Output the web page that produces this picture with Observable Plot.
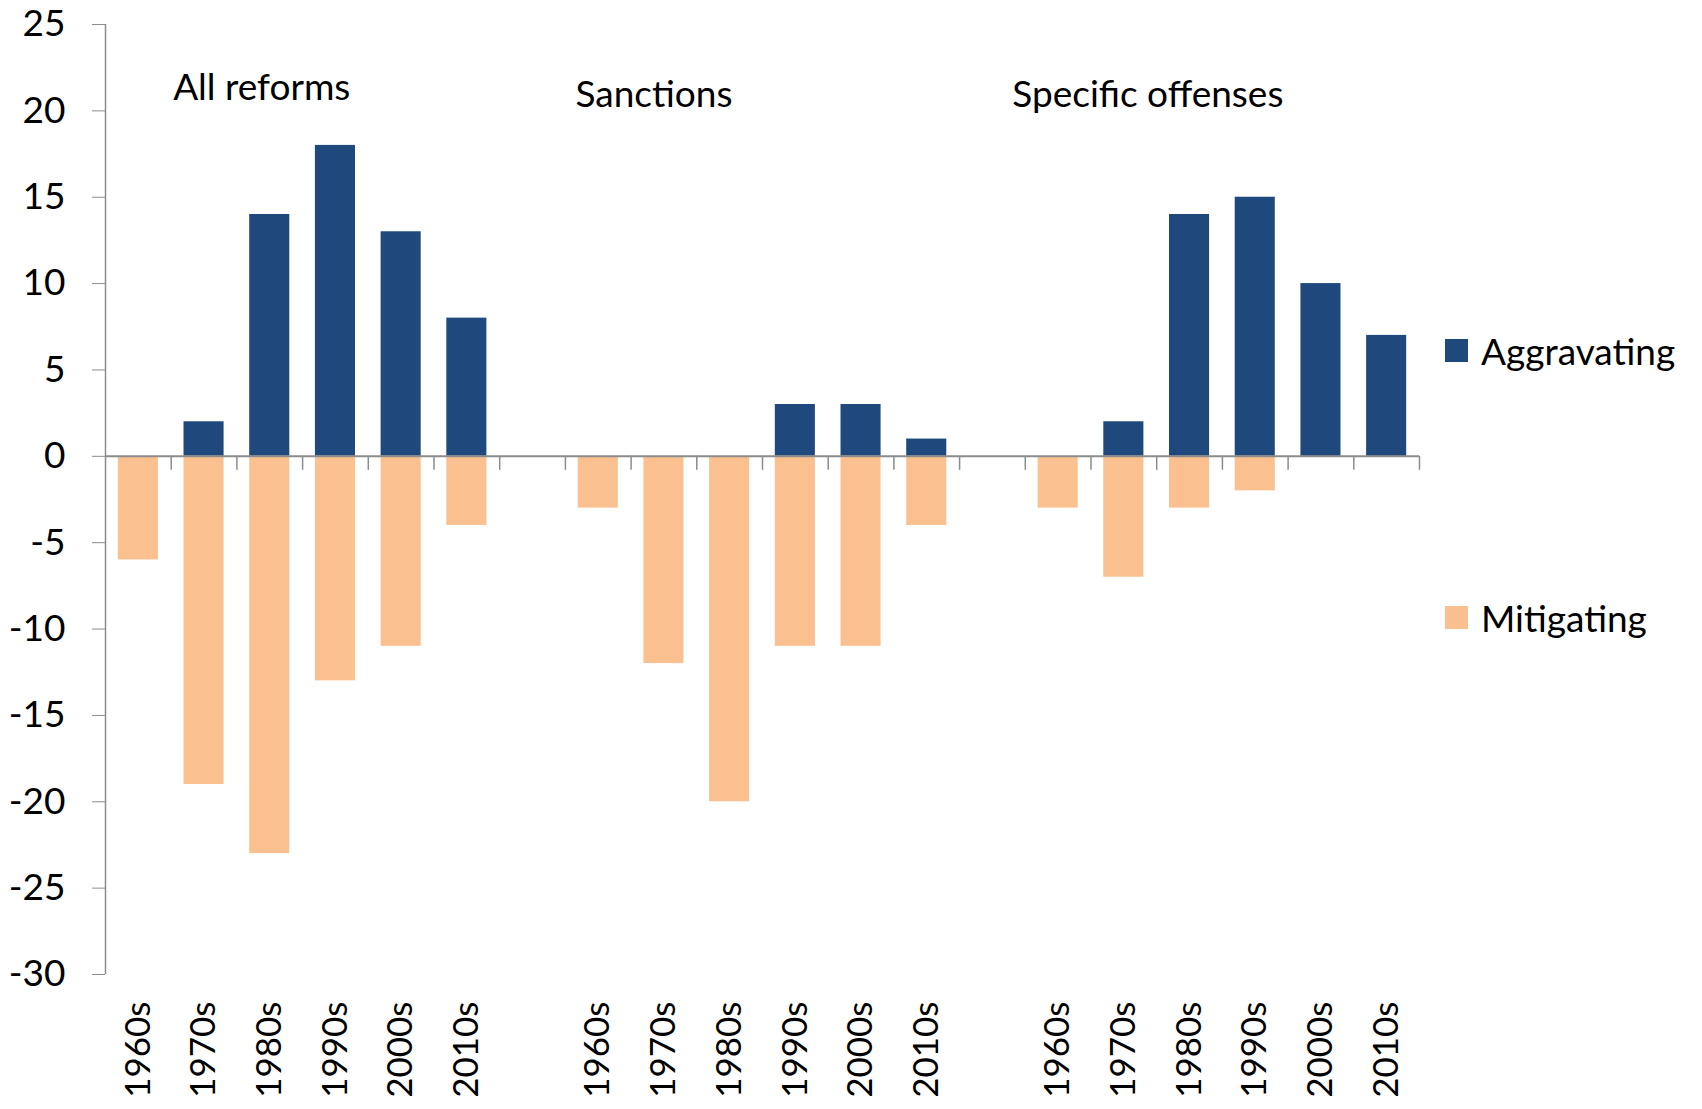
<!DOCTYPE html>
<html>
<head>
<meta charset="utf-8">
<script src="https://cdn.jsdelivr.net/npm/d3@7"></script>
<script src="https://cdn.jsdelivr.net/npm/@observablehq/plot@0.6"></script>
<style>
  html, body { margin: 0; padding: 0; background: #fff; }
  #wrap { position: relative; width: 1702px; height: 1109px; font-family: Lato, sans-serif; }
  .legend { position: absolute; left: 1445px; display: flex; align-items: center; font-size: 37px; color: #000; font-family: Lato, sans-serif; }
  .legend .sw { width: 23px; height: 23px; margin-right: 13px; }
</style>
</head>
<body>
<div id="wrap"></div>
<script>
// ---- data ----
const decades = ["1960s", "1970s", "1980s", "1990s", "2000s", "2010s"];
const groups = ["All reforms", "Sanctions", "Specific offenses"];
const series = ["Aggravating", "Mitigating"];
const colors = ["#1F497D", "#FAC090"];

const allAggravating  = [0, 2, 14, 18, 13, 8];
const allMitigating   = [-6, -19, -23, -13, -11, -4];
const sancAggravating = [0, 0, 0, 3, 3, 1];
const sancMitigating  = [-3, -12, -20, -11, -11, -4];
const specAggravating = [0, 2, 14, 15, 10, 7];
const specMitigating  = [-3, -7, -3, -2, 0, 0];

const yTicks = [-30, -25, -20, -15, -10, -5, 0, 5, 10, 15, 20, 25];

// group title annotations (anchor category, value level)
const groupAnchorDecade = ["1980s", "1970s", "1970s"];
const groupLabelY = [21.3, 20.9, 20.9];
const groupLabelDx = [-8, -10, 24];

// ---- build table ----
const groupValues = [
  [allAggravating, allMitigating],
  [sancAggravating, sancMitigating],
  [specAggravating, specMitigating]
];
const xDomain = [];
groups.forEach((g, gi) => {
  decades.forEach(d => xDomain.push(g + "|" + d));
  if (gi < groups.length - 1) xDomain.push("gap" + gi);
});
const rows = [];
groups.forEach((g, gi) => {
  decades.forEach((d, di) => {
    series.forEach((s, si) => {
      rows.push({key: g + "|" + d, series: s, value: groupValues[gi][si][di]});
    });
  });
});

const width = 1702, height = 1109;
const marginLeft = 105, marginRight = 283, marginTop = 24, marginBottom = 135;
const step = (width - marginLeft - marginRight) / xDomain.length;
const axisGray = "#8c8c8c";

const chart = Plot.plot({
  width, height, marginLeft, marginRight, marginTop, marginBottom,
  style: {fontFamily: "Lato, sans-serif", fontSize: "37px", background: "white", color: "black"},
  x: {domain: xDomain, paddingInner: 0.39, paddingOuter: 0.195, round: false, axis: null},
  y: {domain: [-30, 25], axis: null},
  color: {domain: series, range: colors},
  marks: [
    Plot.barY(rows, {x: "key", y: "value", fill: "series"}),
    Plot.ruleY([0], {stroke: axisGray, strokeWidth: 2}),
    Plot.ruleX([xDomain[0]], {x: d => d, dx: -step / 2, stroke: axisGray, strokeWidth: 1.5}),
    Plot.ruleX(xDomain, {x: d => d, y1: 0, y2: 0, dx: step / 2, insetBottom: -14, stroke: axisGray, strokeWidth: 1.5}),
    Plot.axisY({ticks: yTicks, tickSize: 13, tickPadding: 27, fontSize: 37, stroke: axisGray, fill: "black", label: null, tickFormat: d => d}),
    Plot.axisX({ticks: xDomain, tickRotate: -90, tickSize: 0, tickPadding: 27, fontSize: 35, fill: "black", label: null,
      tickFormat: d => d.startsWith("gap") ? "" : d.split("|")[1]}),
    ...groups.map((g, i) => Plot.text([g], {
      x: [g + "|" + groupAnchorDecade[i]], y: [groupLabelY[i]], text: [g],
      dx: groupLabelDx[i], fontSize: 37, fill: "black"
    }))
  ]
});

const wrap = document.getElementById("wrap");
wrap.appendChild(chart);

// legend (HTML, right side)
const legendTops = [328, 595];
series.forEach((s, i) => {
  const item = document.createElement("div");
  item.className = "legend";
  item.style.top = legendTops[i] + "px";
  item.innerHTML = `<div class="sw" style="background:${colors[i]}"></div><span>${s}</span>`;
  wrap.appendChild(item);
});
</script>
</body>
</html>
